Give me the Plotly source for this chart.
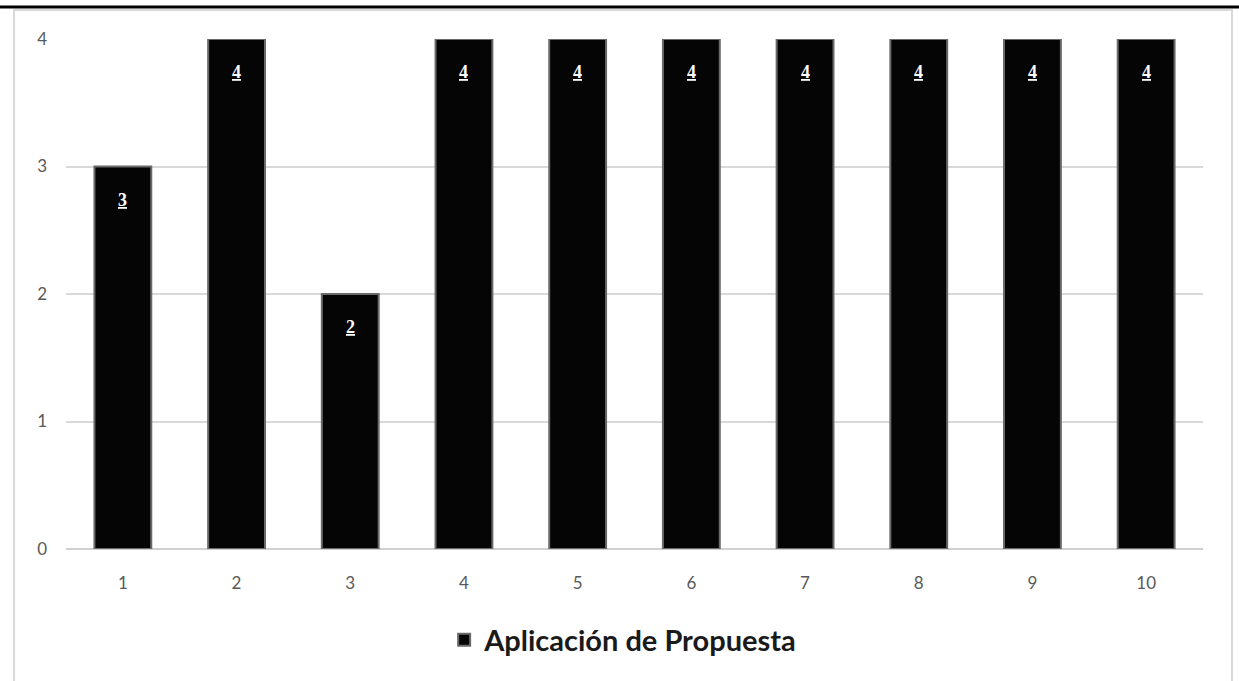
import plotly.graph_objects as go

# Chart data
categorias = ["1", "2", "3", "4", "5", "6", "7", "8", "9", "10"]
valores = [3, 4, 2, 4, 4, 4, 4, 4, 4, 4]
serie = "Aplicación de Propuesta"
ticks_y = [0, 1, 2, 3, 4]

fig = go.Figure()
fig.add_trace(go.Bar(
    x=categorias,
    y=valores,
    name=serie,
    width=0.5,
    marker=dict(color="#050505", line=dict(color="#6a6a6a", width=2)),
    showlegend=True,
))

# Data labels: white, bold, underlined, near the top of each bar
for i, v in enumerate(valores):
    fig.add_annotation(
        x=i, y=v, xref="x", yref="y",
        text=f"<b><u>{v}</u></b>",
        showarrow=False, yanchor="middle", yshift=-33,
        font=dict(family="Liberation Serif", size=18, color="white"),
    )

# Top black rule and light frame around the chart
fig.add_shape(type="line", xref="paper", yref="paper",
              x0=-0.06, x1=1.04, y0=1.0627, y1=1.0627,
              line=dict(color="black", width=3))
fig.add_shape(type="rect", xref="paper", yref="paper",
              x0=-0.0457, x1=1.0255, y0=-0.27, y1=1.0569,
              line=dict(color="#d9d9d9", width=2), fillcolor="rgba(0,0,0,0)")

fig.update_layout(
    width=1239, height=681,
    margin=dict(l=66, r=36, t=39, b=132, autoexpand=False),
    plot_bgcolor="white", paper_bgcolor="white",
    font=dict(family="Lato", color="#595959", size=16),
    bargap=0.5,
    showlegend=True,
    legend=dict(
        orientation="h", x=0.49, xanchor="center", y=-0.178, yanchor="middle",
        font=dict(family="Lato", size=29, color="#1a1a1a", weight="bold"),
        itemwidth=30,
    ),
    xaxis=dict(
        type="category", range=[-0.5, 9.5], showgrid=False, showline=False,
        zeroline=False, ticks="", ticklabelstandoff=22,
        tickfont=dict(size=17, color="#595959"),
    ),
    yaxis=dict(
        range=[0, 4], tickvals=ticks_y, showgrid=True, gridcolor="#d9d9d9",
        gridwidth=1.5, zeroline=True, zerolinecolor="#d0d0d0", zerolinewidth=2,
        showline=False, ticks="", ticklabelstandoff=18,
        tickfont=dict(size=17, color="#595959"),
    ),
)

fig.write_html("out.html")
